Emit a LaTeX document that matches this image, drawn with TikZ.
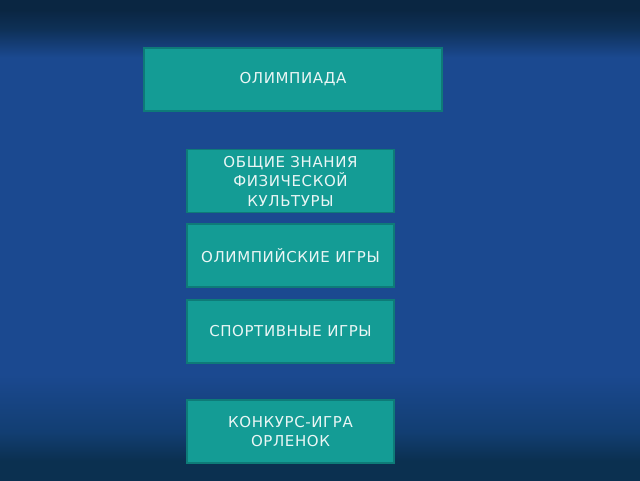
\documentclass[tikz,border=0pt]{standalone}
\usepackage{fontspec}
\setmainfont{DejaVu Sans}[LetterSpace=4]
\definecolor{bgtop}{HTML}{0A2642}
\definecolor{bgdark}{HTML}{0E3056}
\definecolor{bgmid}{HTML}{1B4990}
\definecolor{bglow}{HTML}{123E72}
\definecolor{bgbottom}{HTML}{0B3050}
\definecolor{boxfill}{HTML}{149C95}
\definecolor{boxline}{HTML}{0E7B78}
\definecolor{boxtext}{HTML}{EAF6F5}
% stops between 25bp and 75bp cover the shaded path
\pgfdeclareverticalshading{slidebg}{100bp}{color(0bp)=(bgbottom); color(27bp)=(bgbottom);
  color(30bp)=(bglow); color(36bp)=(bgmid); color(69bp)=(bgmid); color(72bp)=(bgdark);
  color(74bp)=(bgtop); color(100bp)=(bgtop)}
\tikzset{
  topic/.style={draw=boxline, line width=1.2pt, fill=boxfill, text=boxtext,
    align=center, font=\fontsize{15}{19.5}\selectfont,
    minimum width=207pt, minimum height=63pt, inner sep=0pt},
}
\begin{document}
\begin{tikzpicture}[x=1pt, y=-1pt]

\useasboundingbox (0,0) rectangle (640,480);
\shade [shading=slidebg] (0,0) rectangle (640,480);

\node [topic, minimum width=298pt] (olymp) at (293, 79.5) {ОЛИМПИАДА};

\node [topic] (znania) at (290.5, 181) {ОБЩИЕ ЗНАНИЯ\\ФИЗИЧЕСКОЙ\\КУЛЬТУРЫ};
\node [topic] (games)  at (290.5, 255.5) {ОЛИМПИЙСКИЕ ИГРЫ};
\node [topic] (sport)  at (290.5, 331.5) {СПОРТИВНЫЕ ИГРЫ};

\node [topic] (orlenok) at (290.5, 431.5) {КОНКУРС-ИГРА\\ОРЛЕНОК};

\end{tikzpicture}
\end{document}
